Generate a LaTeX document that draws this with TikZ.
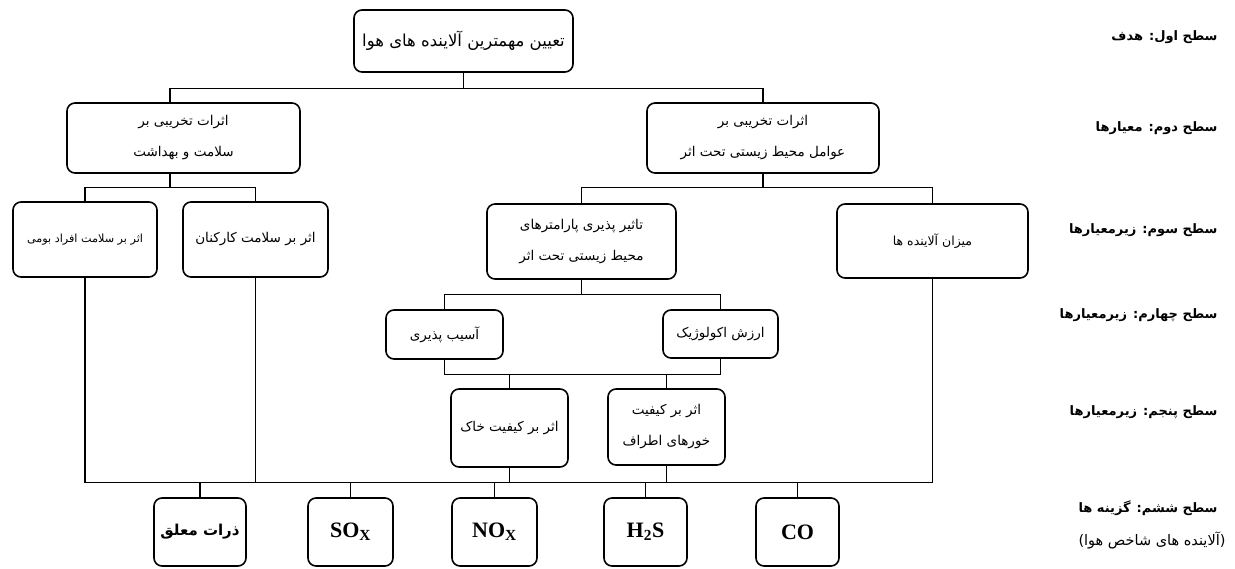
\documentclass[tikz,border=0pt]{standalone}
\usepackage{fontspec}
\setmainfont{Liberation Serif}
\newfontfamily\arabicfont[Script=Arabic]{DejaVu Sans}
\TeXXeTstate=1
\newcommand{\fatext}[1]{\beginR #1\endR}

\begin{document}
\begin{tikzpicture}[x=1pt, y=-1pt,
		box/.style = {draw, line width=1.6pt, rounded corners=8pt, inner sep=2pt, align=center, font=\fontsize{13.5}{31}\selectfont\arabicfont},
		altbox/.style = {box, minimum width=85pt, minimum height=68pt, font=\fontsize{22}{24}\selectfont\bfseries},
		levelname/.style = {anchor=east, font=\fontsize{13}{15}\selectfont\arabicfont\bfseries},
		link/.style = {line width=1.2pt}]
		\useasboundingbox (0,0) rectangle (1235,568);
		\node (goal) at (463.5,41) [box, minimum width=219pt, minimum height=62pt, font=\fontsize{16.5}{18}\selectfont\arabicfont] {\fatext{تعیین مهمترین آلاینده های هوا}};
		\node (crit1) at (183.5,138) [box, minimum width=233pt, minimum height=70pt] {\fatext{اثرات تخریبی بر}\\\fatext{سلامت و بهداشت}};
		\node (crit2) at (763,138) [box, minimum width=232pt, minimum height=70pt] {\fatext{اثرات تخریبی بر}\\\fatext{عوامل محیط زیستی تحت اثر}};
		\node (sub1) at (85,239.5) [box, minimum width=144pt, minimum height=75pt, font=\fontsize{11.2}{13}\selectfont\arabicfont] {\fatext{اثر بر سلامت افراد بومی}};
		\node (sub2) at (255.5,239.5) [box, minimum width=145pt, minimum height=75pt] {\fatext{اثر بر سلامت کارکنان}};
		\node (sub3) at (581.5,241.5) [box, minimum width=189pt, minimum height=75pt] {\fatext{تاثیر پذیری پارامترهای}\\\fatext{محیط زیستی تحت اثر}};
		\node (sub4) at (932.5,241) [box, minimum width=191pt, minimum height=74pt, font=\fontsize{12.5}{14}\selectfont\arabicfont] {\fatext{میزان آلاینده ها}};
		\node (vuln) at (444.5,334.5) [box, minimum width=117pt, minimum height=49pt] {\fatext{آسیب پذیری}};
		\node (eco) at (720.5,334) [box, minimum width=115pt, minimum height=48pt] {\fatext{ارزش اکولوژیک}};
		\node (soil) at (509.5,428) [box, minimum width=117pt, minimum height=78pt] {\fatext{اثر بر کیفیت خاک}};
		\node (wet) at (666.5,427) [box, minimum width=117pt, minimum height=76pt] {\fatext{اثر بر کیفیت}\\\fatext{خورهای اطراف}};
		\node (pm) at (200,532) [altbox, minimum width=92pt, font=\fontsize{15}{17}\selectfont\arabicfont\bfseries] {\fatext{ذرات معلق}};
		\node (sox) at (350.5,532) [altbox] {SO\textsubscript{X}};
		\node (nox) at (494.5,532) [altbox] {NO\textsubscript{X}};
		\node (hs) at (645.5,532) [altbox, minimum width=83pt] {H\textsubscript{2}S};
		\node (co) at (797.5,532) [altbox, minimum width=83pt] {CO};
		\node (lv1) at (1221,37) [levelname] {\fatext{سطح اول: هدف}};
		\node (lv2) at (1221,128) [levelname] {\fatext{سطح دوم: معیارها}};
		\node (lv3) at (1221,230) [levelname] {\fatext{سطح سوم: زیرمعیارها}};
		\node (lv4) at (1221,315) [levelname] {\fatext{سطح چهارم: زیرمعیارها}};
		\node (lv5) at (1221,412) [levelname] {\fatext{سطح پنجم: زیرمعیارها}};
		\node (lv6) at (1221,508) [levelname] {\fatext{سطح ششم: گزینه ها}};
		\node (lv6b) at (1229,540) [levelname, font=\fontsize{14.5}{16}\selectfont\arabicfont] {\fatext{(آلاینده های شاخص هوا)}};
		\draw[link] (goal.south) -- ++(0,16) coordinate (j1);
		\draw[link] ([xshift=-13.5pt]crit1.north) |- (j1) -| (crit2.north);
		\draw[link] ([xshift=-13.5pt]crit1.south) -- ++(0,14) coordinate (j2);
		\draw[link] (sub1.north) |- (j2) -| (sub2.north);
		\draw[link] (crit2.south) -- ++(0,14) coordinate (j3);
		\draw[link] (sub3.north) |- (j3) -| (sub4.north);
		\draw[link] (sub3.south) -- ++(0,15) coordinate (j4);
		\draw[link] (vuln.north) |- (j4) -| (eco.north);
		\draw[link] (vuln.south) -- ++(0,15) coordinate (j5) -| (eco.south);
		\draw[link] (soil.north) -- (soil.north |- j5);
		\draw[link] (wet.north) -- (wet.north |- j5);
		\draw[link] (sub1.south) -- ++(0,205) coordinate (j6) -| (sub4.south);
		\foreach \n/\a in {sub2/south, soil/south, wet/south, pm/north, sox/north, nox/north, hs/north, co/north}
			\draw[link] (\n.\a) -- (\n.\a |- j6);
		\end{tikzpicture}
\end{document}
